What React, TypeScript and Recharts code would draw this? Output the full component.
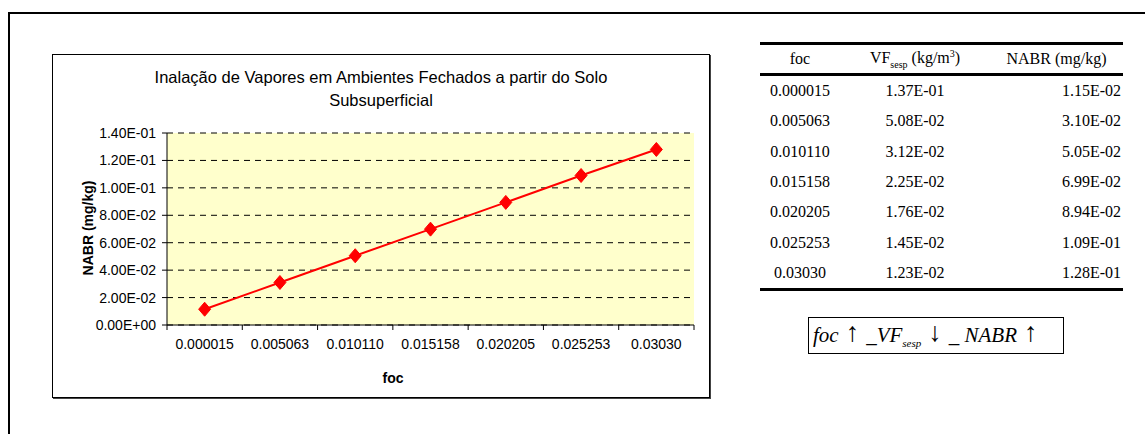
import { LineChart, Line, XAxis, YAxis, CartesianGrid } from 'recharts'

const focLabels = ['0.000015', '0.005063', '0.010110', '0.015158', '0.020205', '0.025253', '0.03030']
const vfSesp = [1.37e-1, 5.08e-2, 3.12e-2, 2.25e-2, 1.76e-2, 1.45e-2, 1.23e-2]
const nabr = [1.15e-2, 3.1e-2, 5.05e-2, 6.99e-2, 8.94e-2, 1.09e-1, 1.28e-1]
const yTicks = [0, 0.02, 0.04, 0.06, 0.08, 0.1, 0.12, 0.14]

const data = focLabels.map((foc, i) => ({ foc, nabr: nabr[i] }))

const CHART_W = 656
const CHART_H = 342
const MARGIN = { top: 78, right: 15, bottom: 12, left: 10 }
const YAXIS_W = 104
const PLOT_W = CHART_W - MARGIN.left - MARGIN.right - YAXIS_W
const BAND = PLOT_W / focLabels.length

// 1.40E-01 style, like Excel
function sci(v: number) {
  const [m, e] = v.toExponential(2).split('e')
  const n = parseInt(e, 10)
  return `${m}E${n < 0 ? '-' : '+'}${String(Math.abs(n)).padStart(2, '0')}`
}

function XTick(props: any) {
  const { x, y, payload, index } = props
  const last = index === focLabels.length - 1
  return (
    <g>
      <line x1={x - BAND / 2} x2={x - BAND / 2} y1={y} y2={y + 5} stroke="#000" />
      {last && <line x1={x + BAND / 2} x2={x + BAND / 2} y1={y} y2={y + 5} stroke="#000" />}
      <text x={x} y={y + 24} textAnchor="middle" fontSize={14} fill="#000">
        {payload.value}
      </text>
    </g>
  )
}

function Diamond(props: any) {
  const { cx, cy } = props
  if (cx == null || cy == null) return null
  return (
    <polygon
      points={`${cx},${cy - 7} ${cx + 6},${cy} ${cx},${cy + 7} ${cx - 6},${cy}`}
      fill="#FF0000"
      stroke="#FF0000"
    />
  )
}

const cell: React.CSSProperties = { padding: 0, height: 30.3, textAlign: 'center' }
const arrow: React.CSSProperties = {
  fontStyle: 'normal',
  fontFamily: '"Liberation Serif", serif',
  fontSize: 27,
  lineHeight: '20px',
  verticalAlign: '1px',
  margin: '0 7px',
}

export default function App() {
  return (
    <div
      style={{
        position: 'fixed',
        left: 0,
        top: 0,
        width: 1145,
        height: 434,
        background: '#fff',
        overflow: 'hidden',
      }}
    >
      <div
        style={{
          position: 'absolute',
          left: 8,
          top: 12,
          width: 1200,
          height: 500,
          borderTop: '2px solid #000',
          borderLeft: '2px solid #000',
        }}
      />

      <div
        style={{
          position: 'absolute',
          left: 52,
          top: 54,
          width: CHART_W,
          height: CHART_H,
          border: '1px solid #000',
          boxShadow: '1px 1px 0 #444',
          fontFamily: '"Liberation Sans", Arial, sans-serif',
        }}
      >
        <div
          style={{
            position: 'absolute',
            left: 0,
            top: 11,
            width: CHART_W,
            textAlign: 'center',
            fontSize: 16.5,
            lineHeight: '23px',
          }}
        >
          Inalação de Vapores em Ambientes Fechados a partir do Solo
          <br />
          Subsuperficial
        </div>
        <LineChart width={CHART_W} height={CHART_H} data={data} margin={MARGIN}>
          <CartesianGrid vertical={false} stroke="#000" strokeDasharray="6 5" fill="#FFFFCC" />
          <XAxis
            dataKey="foc"
            scale="band"
            height={60}
            tickLine={false}
            tickSize={0}
            tickMargin={0}
            axisLine={{ stroke: '#000' }}
            tick={<XTick />}
            interval={0}
            label={() => (
              <text x={340} y={328} textAnchor="middle" fontSize={14} fontWeight="bold" fill="#000">
                foc
              </text>
            )}
          />
          <XAxis
            xAxisId="top"
            orientation="top"
            height={0}
            tick={false}
            tickLine={false}
            axisLine={{ stroke: '#808080', strokeWidth: 2 }}
          />
          <YAxis
            width={YAXIS_W}
            domain={[0, 0.14]}
            ticks={yTicks}
            interval={0}
            tickFormatter={sci}
            tickSize={5}
            tickMargin={6}
            tick={{ fontSize: 14, fill: '#000' }}
            axisLine={{ stroke: '#000' }}
            tickLine={{ stroke: '#000' }}
            label={() => (
              <text
                x={35}
                y={173}
                transform="rotate(-90 35 173)"
                textAnchor="middle"
                dominantBaseline="central"
                fontSize={14}
                fontWeight="bold"
                fill="#000"
              >
                NABR (mg/kg)
              </text>
            )}
          />
          <YAxis
            yAxisId="right"
            orientation="right"
            width={0}
            domain={[0, 0.14]}
            tick={false}
            tickLine={false}
            axisLine={{ stroke: '#808080', strokeWidth: 2 }}
          />
          <Line
            dataKey="nabr"
            stroke="#FF0000"
            strokeWidth={2}
            dot={<Diamond />}
            activeDot={false}
            isAnimationActive={false}
          />
        </LineChart>
      </div>

      <table
        style={{
          position: 'absolute',
          left: 760,
          top: 42,
          width: 363,
          borderCollapse: 'collapse',
          fontFamily: '"Liberation Serif", "Times New Roman", serif',
          fontSize: 16,
          borderTop: '3px solid #000',
          borderBottom: '3px solid #000',
        }}
      >
        <thead>
          <tr style={{ borderBottom: '3px solid #000' }}>
            <th style={{ ...cell, width: 80, fontWeight: 'normal', height: 28 }}>foc</th>
            <th style={{ ...cell, width: 150, fontWeight: 'normal', height: 28 }}>
              VF<sub style={{ fontSize: 10 }}>sesp</sub> (kg/m<sup style={{ fontSize: 10 }}>3</sup>)
            </th>
            <th style={{ ...cell, fontWeight: 'normal', height: 28 }}>NABR (mg/kg)</th>
          </tr>
        </thead>
        <tbody>
          {focLabels.map((f, i) => (
            <tr key={f}>
              <td style={cell}>{f}</td>
              <td style={cell}>{sci(vfSesp[i])}</td>
              <td style={{ ...cell, textAlign: 'right', paddingRight: 2 }}>{sci(nabr[i])}</td>
            </tr>
          ))}
        </tbody>
      </table>

      <div
        style={{
          position: 'absolute',
          left: 808,
          top: 317,
          width: 250,
          height: 35,
          border: '1px solid #000',
          fontFamily: '"Liberation Serif", "Times New Roman", serif',
          fontStyle: 'italic',
          fontSize: 21,
          lineHeight: '35px',
          whiteSpace: 'nowrap',
          paddingLeft: 4,
          boxSizing: 'content-box',
        }}
      >
        foc<span style={arrow}>↑</span>_VF<sub style={{ fontSize: 11 }}>sesp</sub>
        <span style={arrow}>↓</span>_ NABR<span style={arrow}>↑</span>
      </div>
    </div>
  )
}
